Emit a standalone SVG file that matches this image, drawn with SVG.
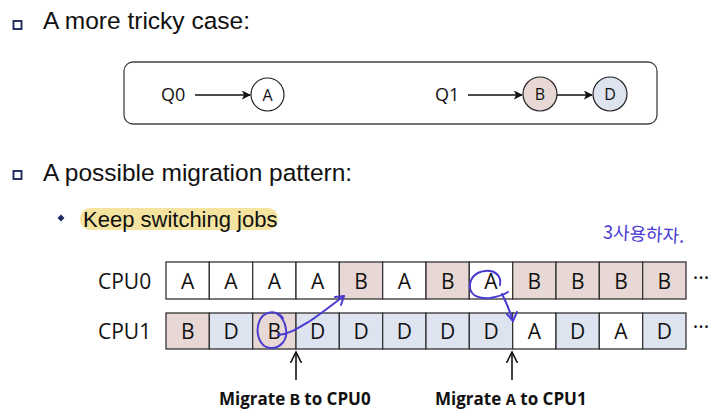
<svg xmlns="http://www.w3.org/2000/svg" width="713" height="418" viewBox="0 0 713 418">
<style>
.h{font-family:"Liberation Sans",Arial,sans-serif;font-size:24.5px;fill:#111}
.sub{font-family:"Liberation Sans",Arial,sans-serif;font-size:22px;fill:#111}
.q{font-family:"Open Sans","Noto Sans",sans-serif;font-size:18px;fill:#111}
.cl{font-family:"Open Sans","Noto Sans",sans-serif;font-size:16px;fill:#111;text-anchor:middle}
.cpu{font-family:"Open Sans","Noto Sans",sans-serif;font-size:21px;fill:#111}
.cell{stroke:#333;stroke-width:1.3}
.ct{font-family:"Open Sans","Noto Sans",sans-serif;font-size:21px;fill:#111;text-anchor:middle}
.a{fill:#fff}.b{fill:#e8d8d5}.d{fill:#dde3ef}
.lbl{font-family:"Open Sans","Noto Sans",sans-serif;font-size:17px;font-weight:bold;fill:#111}
.mono{font-family:"Liberation Mono","Courier New",monospace;font-weight:bold}
.ink{fill:none;stroke:#4a3bd0;stroke-width:2;stroke-linecap:round;stroke-linejoin:round}
.bul{fill:none;stroke:#1d2a60;stroke-width:1.9}
.con{stroke:#111;stroke-width:1.6;fill:none}
</style>
<defs>
<marker id="ah" viewBox="0 0 10 10" refX="9" refY="5" markerWidth="9" markerHeight="9" markerUnits="userSpaceOnUse" orient="auto">
<path d="M0,0 L10,5 L0,10 L2.5,5 Z" fill="#111"/>
</marker>
<marker id="up" viewBox="0 0 12 12" refX="11" refY="6" markerWidth="12" markerHeight="12" markerUnits="userSpaceOnUse" orient="auto">
<path d="M0,0.5 L11,6 L0,11.5" fill="none" stroke="#111" stroke-width="1.6"/>
</marker>
</defs>

<g id="bullet1">
<rect class="bul" x="13.5" y="21" width="8" height="8"/>
<text class="h" x="43" y="29">A more tricky case:</text>
</g>

<g id="queues">
<rect x="124" y="62" width="533" height="62" rx="9" fill="#fff" stroke="#444" stroke-width="1.3"/>
</g>
<g id="Q0"><text class="q" x="161" y="101">Q0</text></g>
<g id="nodeA"><circle cx="267.5" cy="94.5" r="16.5" fill="#fff" stroke="#222" stroke-width="1.2"/><text class="cl" x="267.5" y="100.5">A</text></g>
<g id="Q1"><text class="q" x="435" y="101">Q1</text></g>
<g id="nodeB"><circle cx="540" cy="94" r="17" fill="#e8d8d5" stroke="#222" stroke-width="1.2"/><text class="cl" x="540" y="100">B</text></g>
<g id="nodeD"><circle cx="610" cy="94" r="17" fill="#dde3ef" stroke="#222" stroke-width="1.2"/><text class="cl" x="610" y="100">D</text></g>

<g id="connectors">
<line class="con" x1="195" y1="95" x2="250" y2="95" marker-end="url(#ah)"/>
<line class="con" x1="468" y1="95" x2="522" y2="95" marker-end="url(#ah)"/>
<line class="con" x1="557" y1="95" x2="592" y2="95" marker-end="url(#ah)"/>
<line class="con" x1="296" y1="380" x2="296" y2="352" marker-end="url(#up)"/>
<line class="con" x1="512" y1="380" x2="512" y2="352" marker-end="url(#up)"/>
</g>

<g id="bullet2">
<rect class="bul" x="13.5" y="171" width="8" height="8"/>
<text class="h" x="43" y="181">A possible migration pattern:</text>
</g>
<g id="subbullet">
<path d="M61,214.5 L64.5,218 L61,221.5 L57.5,218 Z" fill="#1d2a60"/>
<rect x="80" y="208" width="198" height="22" rx="10" fill="#f3df8f" opacity="0.85"/>
<text class="sub" x="83" y="227">Keep switching jobs</text>
</g>

<g id="note"><text x="603" y="241" font-family="'Noto Sans CJK KR',sans-serif" font-size="18" fill="#4a3bd0" transform="rotate(3 650 235)">3사용하자.</text></g>

<g id="cpu0">
<text class="cpu" x="98" y="289">CPU0</text>
<rect class="cell a" x="166" y="262" width="43.33" height="37"/>
<rect class="cell a" x="209.33" y="262" width="43.33" height="37"/>
<rect class="cell a" x="252.67" y="262" width="43.33" height="37"/>
<rect class="cell a" x="296" y="262" width="43.33" height="37"/>
<rect class="cell b" x="339.33" y="262" width="43.33" height="37"/>
<rect class="cell a" x="382.67" y="262" width="43.33" height="37"/>
<rect class="cell b" x="426" y="262" width="43.33" height="37"/>
<rect class="cell a" x="469.33" y="262" width="43.33" height="37"/>
<rect class="cell b" x="512.67" y="262" width="43.33" height="37"/>
<rect class="cell b" x="556" y="262" width="43.33" height="37"/>
<rect class="cell b" x="599.33" y="262" width="43.33" height="37"/>
<rect class="cell b" x="642.67" y="262" width="43.33" height="37"/>
<text class="ct" x="187.7" y="288.5">A</text>
<text class="ct" x="231" y="288.5">A</text>
<text class="ct" x="274.3" y="288.5">A</text>
<text class="ct" x="317.7" y="288.5">A</text>
<text class="ct" x="361" y="288.5">B</text>
<text class="ct" x="404.3" y="288.5">A</text>
<text class="ct" x="447.7" y="288.5">B</text>
<text class="ct" x="491" y="288.5">A</text>
<text class="ct" x="534.3" y="288.5">B</text>
<text class="ct" x="577.7" y="288.5">B</text>
<text class="ct" x="621" y="288.5">B</text>
<text class="ct" x="664.3" y="288.5">B</text>
<text class="ct" x="701" y="285" font-size="13">···</text>
</g>

<g id="cpu1">
<text class="cpu" x="98" y="339">CPU1</text>
<rect class="cell b" x="166" y="313" width="43.33" height="36"/>
<rect class="cell d" x="209.33" y="313" width="43.33" height="36"/>
<rect class="cell b" x="252.67" y="313" width="43.33" height="36"/>
<rect class="cell d" x="296" y="313" width="43.33" height="36"/>
<rect class="cell d" x="339.33" y="313" width="43.33" height="36"/>
<rect class="cell d" x="382.67" y="313" width="43.33" height="36"/>
<rect class="cell d" x="426" y="313" width="43.33" height="36"/>
<rect class="cell d" x="469.33" y="313" width="43.33" height="36"/>
<rect class="cell a" x="512.67" y="313" width="43.33" height="36"/>
<rect class="cell d" x="556" y="313" width="43.33" height="36"/>
<rect class="cell a" x="599.33" y="313" width="43.33" height="36"/>
<rect class="cell d" x="642.67" y="313" width="43.33" height="36"/>
<text class="ct" x="187.7" y="339">B</text>
<text class="ct" x="231" y="339">D</text>
<text class="ct" x="274.3" y="339">B</text>
<text class="ct" x="317.7" y="339">D</text>
<text class="ct" x="361" y="339">D</text>
<text class="ct" x="404.3" y="339">D</text>
<text class="ct" x="447.7" y="339">D</text>
<text class="ct" x="491" y="339">D</text>
<text class="ct" x="534.3" y="339">A</text>
<text class="ct" x="577.7" y="339">D</text>
<text class="ct" x="621" y="339">A</text>
<text class="ct" x="664.3" y="339">D</text>
<text class="ct" x="701" y="334" font-size="13">···</text>
</g>

<g id="labels">
<text class="lbl" x="219" y="405">Migrate <tspan class="mono">B</tspan> to CPU0</text>
<text class="lbl" x="435" y="405">Migrate <tspan class="mono">A</tspan> to CPU1</text>
</g>

<g id="annotations">
<path class="ink" d="M283,318 C276,309 263,311 259,322 C255,334 260,347 270,348 C280,349 288,340 286,329 C285,322 281,316 276,313"/>
<path class="ink" d="M278,335 C290,334 300,327 310,321 C322,313 333,304 344,296"/>
<path class="ink" d="M335,297 L344,296 L341,305"/>
<path class="ink" d="M500,285 C502,275 494,270 485,271 C475,272 469,279 470,288 C471,296 480,299 490,298 C496,297 502,296 508,292"/>
<path class="ink" d="M502,294 C506,302 510,311 513,321"/>
<path class="ink" d="M507,314 L513,321 L517,312"/>
</g>
</svg>
